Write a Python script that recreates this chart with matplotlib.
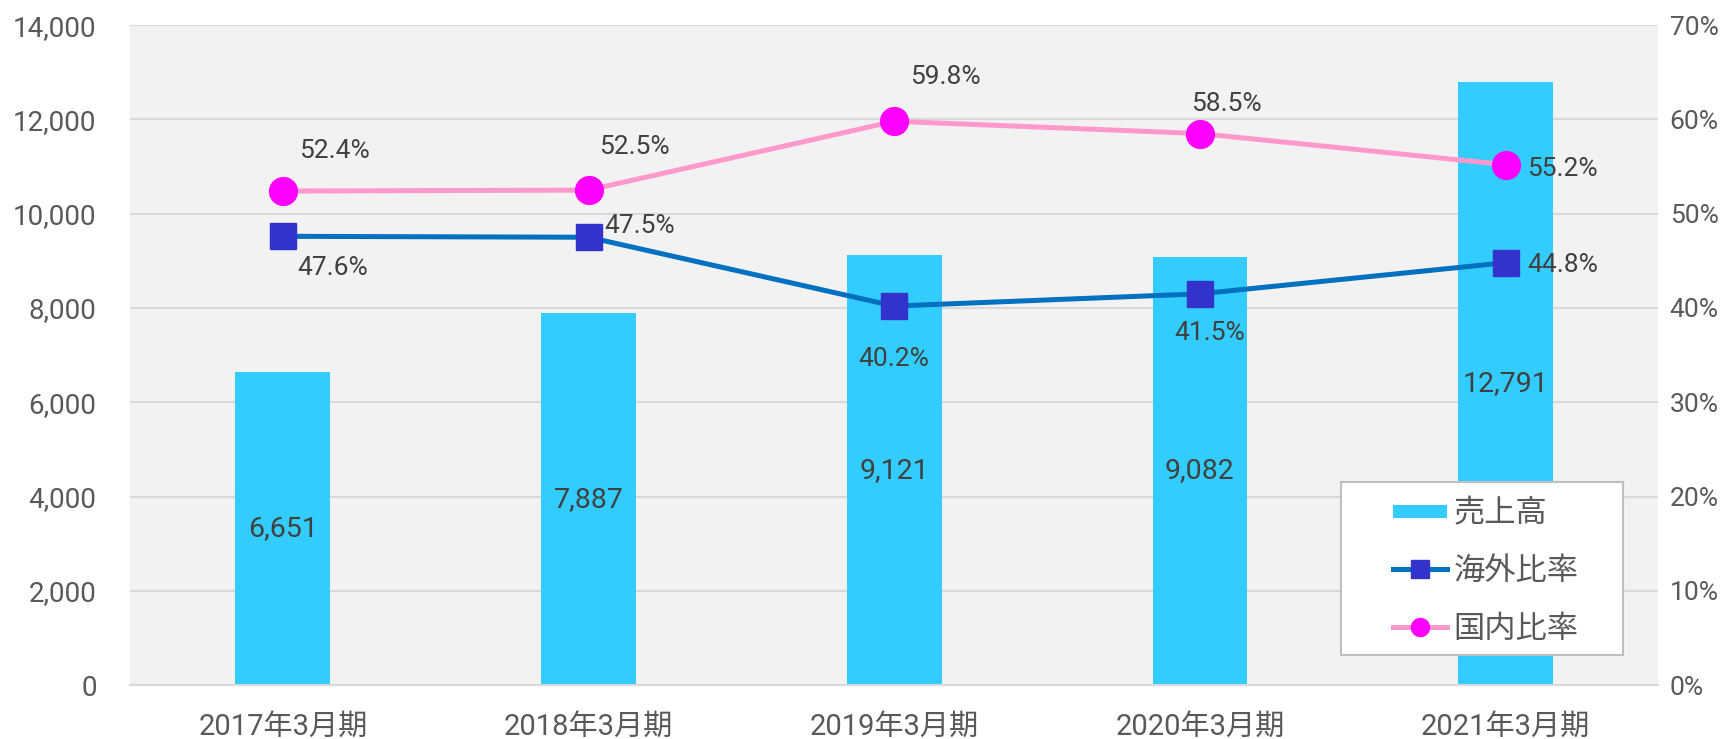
import matplotlib.pyplot as plt
from matplotlib.patches import Rectangle
from matplotlib.legend_handler import HandlerPatch
from matplotlib.ticker import FuncFormatter

plt.rcParams['font.family'] = ['Roboto', 'Noto Sans CJK JP', 'DejaVu Sans']

# data
periods = ['2017年3月期', '2018年3月期', '2019年3月期', '2020年3月期', '2021年3月期']
sales = [6651, 7887, 9121, 9082, 12791]
overseas = [47.6, 47.5, 40.2, 41.5, 44.8]
domestic = [52.4, 52.5, 59.8, 58.5, 55.2]

# label offsets in points (style only)
dom_offsets = [(37, 29), (33, 31), (37, 32), (19, 21), (41, -3)]
ovs_offsets = [(36, -23), (37, 8), (0, -38), (7, -28), (41, -2)]

tick_color = '#595959'
text_color = '#404040'

fig = plt.figure(figsize=(17.33, 7.39), dpi=100)
ax = fig.add_axes([0.075, 0.073, 0.882, 0.893])
ax2 = ax.twinx()

x = list(range(len(periods)))

ax.set_facecolor('#F2F2F2')
bars = ax.bar(x, sales, width=0.31, color='#33CCFF', zorder=2, label='売上高')
for xi, v in zip(x, sales):
    ax.text(xi, v / 2, f'{v:,}', ha='center', va='center', fontsize=20.5,
            color=text_color, zorder=3)

ax.set_ylim(0, 14000)
ax.set_xlim(-0.5, len(periods) - 0.5)
ax.set_yticks(range(0, 14001, 2000))
ax.yaxis.set_major_formatter(FuncFormatter(lambda v, p: f'{int(v):,}'))
ax.grid(axis='y', color='#D9D9D9', linewidth=1.5, zorder=0)
ax.set_axisbelow(True)
ax.set_xticks(x)
ax.set_xticklabels(periods)
ax.tick_params(axis='y', length=0, pad=24, labelsize=20, labelcolor=tick_color)
ax.tick_params(axis='x', length=0, pad=20, labelsize=21, labelcolor=tick_color)
for s in ['top', 'right', 'left']:
    ax.spines[s].set_visible(False)
ax.spines['bottom'].set_color('#D9D9D9')
ax.spines['bottom'].set_linewidth(1.5)

l1, = ax2.plot(x, overseas, color='#0070C0', linewidth=3.6, marker='s',
               markersize=19, markerfacecolor='#3333CC',
               markeredgecolor='#3333CC', label='海外比率', zorder=4)
l2, = ax2.plot(x, domestic, color='#FF99CC', linewidth=3.6, marker='o',
               markersize=20, markerfacecolor='#FF00FF',
               markeredgecolor='#FF00FF', label='国内比率', zorder=4)

for xi, v, off in zip(x, domestic, dom_offsets):
    ax2.annotate(f'{v:.1f}%', (xi, v), xytext=off, textcoords='offset points',
                 ha='center', va='center', fontsize=19, color=text_color)
for xi, v, off in zip(x, overseas, ovs_offsets):
    ax2.annotate(f'{v:.1f}%', (xi, v), xytext=off, textcoords='offset points',
                 ha='center', va='center', fontsize=19, color=text_color)

ax2.set_ylim(0, 70)
ax2.set_yticks(range(0, 71, 10))
ax2.yaxis.set_major_formatter(FuncFormatter(lambda v, p: f'{int(v)}%'))
ax2.tick_params(axis='y', length=0, pad=8, labelsize=19, labelcolor=tick_color)
for s in ax2.spines.values():
    s.set_visible(False)

# legend frame drawn separately (wider than matplotlib's auto box)
ax2.add_patch(Rectangle((0.792, 0.046), 0.185, 0.262, transform=ax2.transAxes,
                        facecolor='white', edgecolor='#BFBFBF', linewidth=1.5,
                        zorder=5))


def thin_bar(legend, orig_handle, xdescent, ydescent, width, height, fontsize):
    return Rectangle((-xdescent, -ydescent + height * 0.2), width, height * 0.6)


bar_handle = bars.patches[0]
leg = ax2.legend([bar_handle, l1, l2], ['売上高', '海外比率', '国内比率'],
                 loc='upper left', bbox_to_anchor=(0.826, 0.281),
                 fontsize=22.5, frameon=False, handlelength=1.75,
                 labelspacing=0.92, borderpad=0, handletextpad=0.2,
                 borderaxespad=0, markerscale=0.65,
                 handler_map={bar_handle: HandlerPatch(patch_func=thin_bar)})
leg.set_zorder(6)
for t in leg.get_texts():
    t.set_color(tick_color)

fig.savefig('out.png', dpi=100, facecolor='white')
